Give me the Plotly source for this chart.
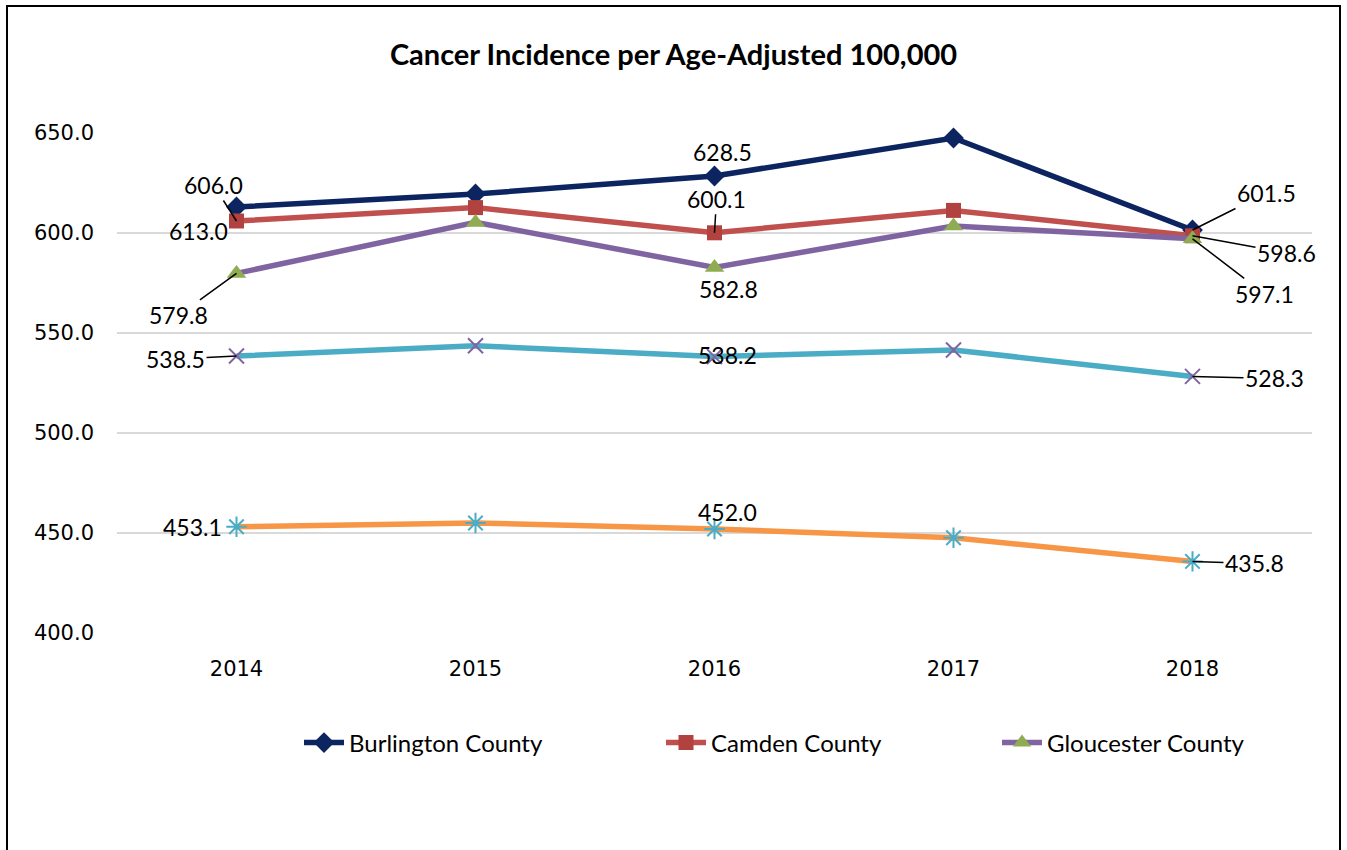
import plotly.graph_objects as go

# ---------------- data ----------------
years = ["2014", "2015", "2016", "2017", "2018"]

burlington = [613.0, 619.5, 628.5, 647.5, 601.5]
camden = [606.0, 612.7, 600.1, 611.3, 598.6]
gloucester = [579.8, 605.3, 582.8, 603.5, 597.1]
series4 = [538.5, 543.6, 538.2, 541.5, 528.3]
series5 = [453.1, 455.0, 452.0, 447.6, 435.8]

# labelled years (indices) and the label texts shown for each series
label_idx = [0, 2, 4]
burlington_labels = ["613.0", "628.5", "601.5"]
camden_labels = ["606.0", "600.1", "598.6"]
gloucester_labels = ["579.8", "582.8", "597.1"]
series4_labels = ["538.5", "538.2", "528.3"]
series5_labels = ["453.1", "452.0", "435.8"]

y_ticks = [400, 450, 500, 550, 600, 650]

# ---------------- layout geometry (pixels) ----------------
W, H = 1347, 850
L, R, T, B = 117, 1312, 132, 634   # plot area edges
Y_RANGE = [399.5, 650.5]


def px_x(px):
    return (px - L) / (R - L)


def px_y(py):
    return (B - py) / (B - T)


fig = go.Figure()

traces = [
    ("Burlington County", burlington, "#0c2460", dict(symbol="diamond", size=16, color="#0c2460"), True, "legend"),
    ("Camden County", camden, "#c0504d", dict(symbol="square", size=15, color="#b2423f"), True, "legend2"),
    ("Gloucester County", gloucester, "#8064a2", dict(symbol="triangle-up", size=17, color="#8fac52"), True, "legend3"),
    ("Series 4", series4, "#4bacc6", dict(symbol="x-thin-open", size=15, color="#8064a2", line=dict(width=2, color="#8064a2")), False, "legend"),
    ("Series 5", series5, "#f79646", dict(symbol="asterisk-open", size=17, color="#4bacc6", line=dict(width=2, color="#4bacc6")), False, "legend"),
]
for name, vals, lc, mk, show, leg in traces:
    fig.add_trace(go.Scatter(
        x=years, y=vals, name=name, mode="lines+markers",
        line=dict(color=lc, width=5.5), marker=mk,
        showlegend=show, legend=leg, cliponaxis=False,
    ))

# ---------------- data labels ----------------
# (dx, dy, leader) offsets in pixels of the label centre from its point
label_style = {
    "burlington": [(-38, 24, False), (8, -24, False), (74, -37, True)],
    "camden": [(-23, -36, True), (2, -34, True), (94, 17, True)],
    "gloucester": [(-58, 42, True), (14, 22, False), (72, 55, True)],
    "series4": [(-61, 3, True), (13, -2, False), (82, 2, True)],
    "series5": [(-44, 0, False), (13, -17, False), (62, 2, True)],
}
label_sets = [
    ("burlington", burlington, burlington_labels),
    ("camden", camden, camden_labels),
    ("gloucester", gloucester, gloucester_labels),
    ("series4", series4, series4_labels),
    ("series5", series5, series5_labels),
]
lab_font = dict(family="Lato", size=23, color="#000000")
for key, vals, texts in label_sets:
    for (i, txt, (dx, dy, leader)) in zip(label_idx, texts, label_style[key]):
        if leader:
            fig.add_annotation(
                x=i, y=vals[i], xref="x", yref="y", text=txt, showarrow=True,
                ax=dx, ay=dy, arrowhead=0, arrowwidth=1.5, arrowcolor="#000000",
                standoff=0, font=lab_font,
            )
        else:
            fig.add_annotation(
                x=i, y=vals[i], xref="x", yref="y", text=txt, showarrow=False,
                xshift=dx, yshift=-dy, font=lab_font,
            )

# ---------------- chart border ----------------
fig.add_shape(
    type="rect", xref="paper", yref="paper",
    x0=px_x(7), x1=px_x(1340), y0=px_y(870), y1=px_y(6),
    line=dict(color="#000000", width=2), fillcolor="rgba(0,0,0,0)", layer="below",
)

leg_common = dict(
    orientation="h", yanchor="middle", xanchor="left", y=px_y(743),
    font=dict(family="Lato", size=24, color="#000000"),
    bgcolor="rgba(0,0,0,0)", itemwidth=40,
)

fig.update_layout(
    width=W, height=H,
    margin=dict(l=L, r=W - R, t=T, b=H - B),
    paper_bgcolor="#ffffff", plot_bgcolor="#ffffff",
    title=dict(
        text="<b>Cancer Incidence per Age-Adjusted 100,000</b>",
        x=0.5, xanchor="center", xref="container",
        y=1 - 55 / H, yanchor="middle", yref="container",
        font=dict(family="Lato", size=29, color="#000000"),
    ),
    xaxis=dict(
        type="category", range=[-0.5, 4.5], showgrid=False, showline=False,
        zeroline=False, ticks="", ticklabelstandoff=20,
        tickfont=dict(family="DejaVu Sans", size=21, color="#000000"),
    ),
    yaxis=dict(
        range=Y_RANGE, tickvals=y_ticks, tickformat=".1f",
        showgrid=True, gridcolor="#d9d9d9", gridwidth=2,
        zeroline=False, showline=False, ticks="", ticklabelstandoff=22,
        tickfont=dict(family="DejaVu Sans", size=21, color="#000000"),
    ),
    legend=dict(x=px_x(299), **leg_common),
    legend2=dict(x=px_x(661), **leg_common),
    legend3=dict(x=px_x(997), **leg_common),
    showlegend=True,
)

fig.write_html(
    "out.html",
    config={"displayModeBar": False},
    post_script="document.body.style.margin='0';document.body.style.padding='0';",
)
